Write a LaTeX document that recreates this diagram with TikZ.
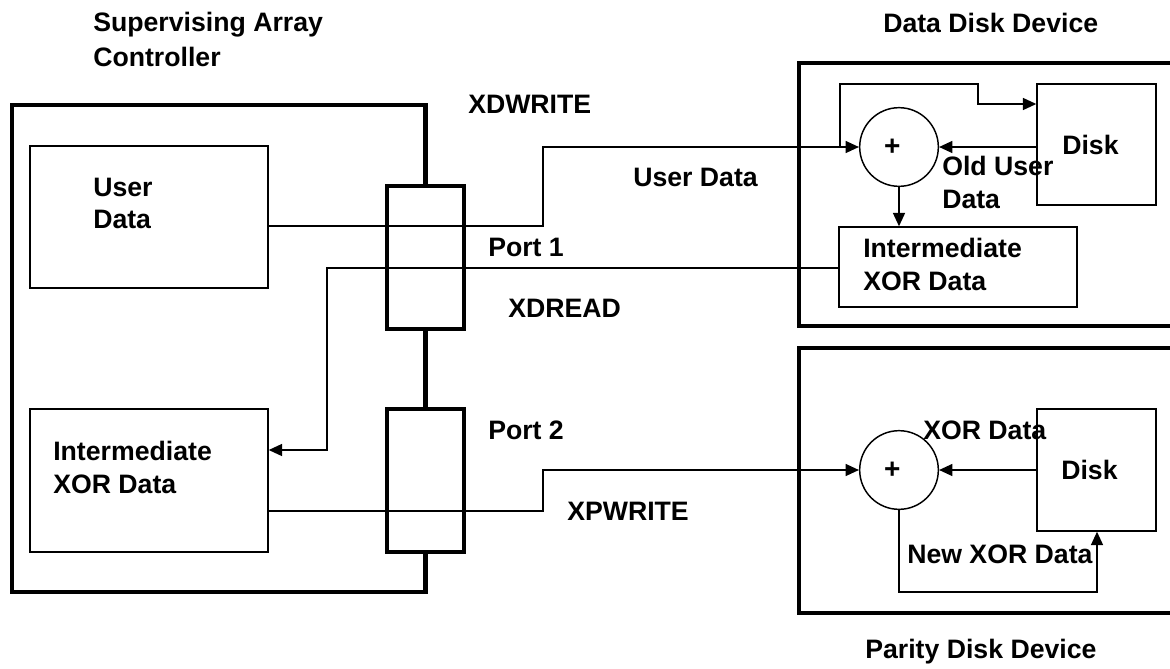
\documentclass[tikz,border=0pt]{standalone}
\usepackage{fontspec}
\setmainfont{Liberation Sans}
\usetikzlibrary{fit,arrows.meta}
\begin{document}
\begin{tikzpicture}[x=0.75pt,y=-0.75pt,
  lbl/.style={font=\bfseries\fontsize{20}{24}\selectfont, inner sep=0pt, anchor=base west},
  box/.style={draw, line width=1.1pt, inner sep=0pt},
  thickbox/.style={draw, line width=3.2pt, inner sep=0pt},
  conn/.style={line width=1.1pt},
  arr/.style={conn,-{Triangle[length=10pt,width=9pt]}},
  thk/.style={line width=3.2pt, line join=miter},
  sumnode/.style={circle, draw, line width=1.1pt, minimum size=59pt, inner sep=0pt, font=\bfseries\fontsize{21}{24}\selectfont}]
\useasboundingbox (0,0) rectangle (1170,668);
\fill[white] (0,0) rectangle (1170,668);
\clip (0,0) rectangle (1170,668);

% boxes
\node[box, fit={(30,146)(268,288)}] (ud) {};
\node[box, fit={(30,409)(268,552)}] (ixl) {};
\node[thickbox, fit={(387,186)(464,329)}] (p1) {};
\node[thickbox, fit={(387,409)(464,552)}] (p2) {};
\node[box, fit={(1037,84)(1156,205)}] (d1) {};
\node[box, fit={(839,227)(1077,307)}] (ix1) {};
\node[box, fit={(1037,409)(1156,531)}] (d2) {};
\node[sumnode] (c1) at (899,147) {\hspace*{-10pt}\raisebox{-2pt}{+}};
\node[sumnode] (c2) at (899,470) {\hspace*{-10pt}\raisebox{-2pt}{+}};

% outlines
\draw[thk] (p1.north) -- (p1.north |- 0,105) -- (12,105) -- (12,592) -- (p2.south |- 0,592) -- (p2.south);
\draw[thk] (p1.south) -- (p2.north);
\draw[thk] (1180,63) -- (799,63) -- (799,326) -- (1180,326);
\draw[thk] (1180,348) -- (799,348) -- (799,613) -- (1180,613);

% connectors
\draw[arr] (ud.east |- 0,226) -| (c1.west -| 543,0) -- (c1.west);
\draw[arr] (840,0 |- c1.west) |- (978,84) |- (d1.west |- 0,104);
\draw[arr] (d1.west |- c1.east) -- (c1.east);
\draw[arr] (c1.south) -- (c1.south |- ix1.north);
\draw[arr] (ix1.west |- 0,268) -| (327,450) -- (ixl.east |- 0,450);
\draw[arr] (ixl.east |- 0,511) -| (c2.west -| 543,0) -- (c2.west);
\draw[arr] (d2.west |- c2.east) -- (c2.east);
\draw[arr] (c2.south) |- (1097,592) -- (d2.south -| 1097,0);

% labels
\node[lbl] (t1) at (93,31) {Supervising Array};
\node[lbl] (t2) at (93,66) {Controller};
\node[lbl] (t3) at (883,32) {Data Disk Device};
\node[lbl] (t4) at (865,658) {Parity Disk Device};
\node[lbl] (t5) at (468,113) {XDWRITE};
\node[lbl] (t6) at (633,186) {User Data};
\node[lbl] (t7) at (488,256) {Port 1};
\node[lbl] (t8) at (508,317) {XDREAD};
\node[lbl] (t9) at (488,439) {Port 2};
\node[lbl] (t10) at (567,520) {XPWRITE};
\node[lbl] (t11) at (93,196) {User};
\node[lbl] (t12) at (93,228) {Data};
\node[lbl] (t13) at (53,460) {Intermediate};
\node[lbl] (t14) at (53,493) {XOR Data};
\node[lbl] (t15) at (942,175) {Old User};
\node[lbl] (t16) at (942,208) {Data};
\node[lbl] (t17) at (1062,154) {Disk};
\node[lbl] (t18) at (863,257) {Intermediate};
\node[lbl] (t19) at (863,290) {XOR Data};
\node[lbl] (t20) at (923,439) {XOR Data};
\node[lbl] (t21) at (1061,479) {Disk};
\node[lbl] (t22) at (907,563) {New XOR Data};
\end{tikzpicture}
\end{document}
